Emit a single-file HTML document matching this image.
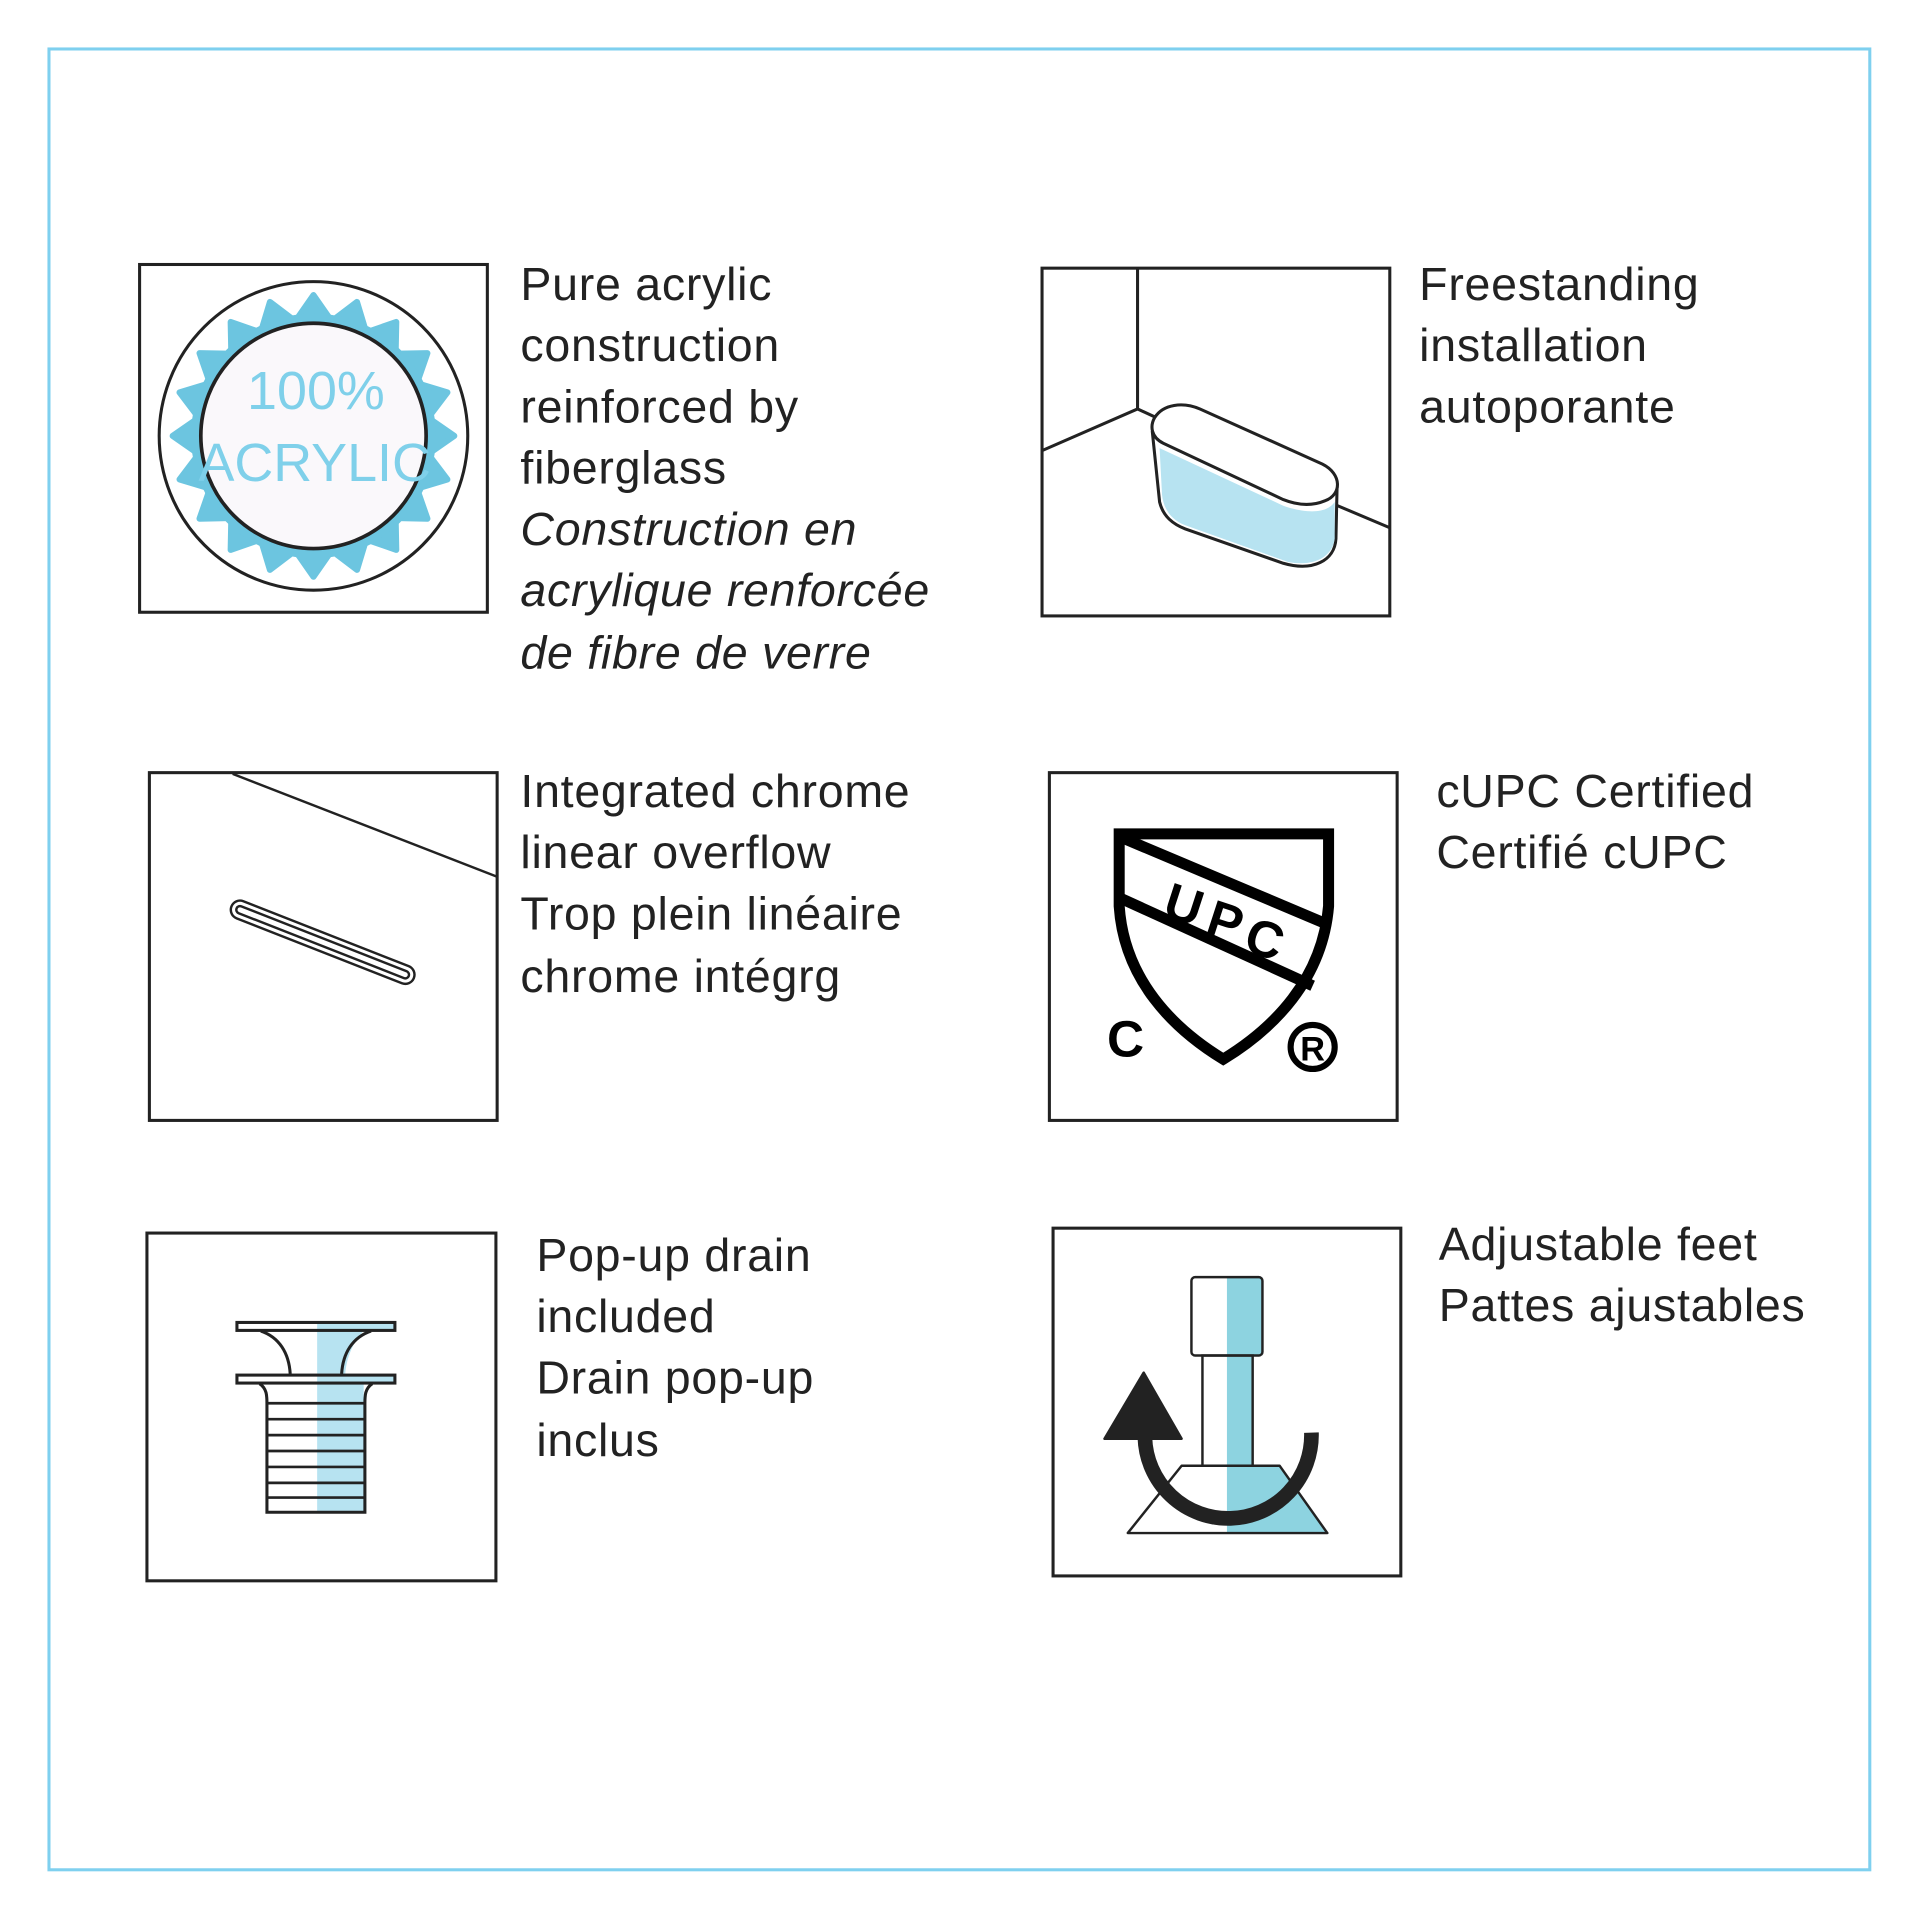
<!DOCTYPE html>
<html><head><meta charset="utf-8"><style>
html,body{margin:0;padding:0;background:#fff}
svg{display:block}
text{font-family:"Liberation Sans",sans-serif}
.t{font-size:38px;fill:#222;letter-spacing:0.6px}
.i{font-style:italic}
</style></head><body>
<svg width="1920" height="1920" viewBox="0 0 1568 1568" xmlns="http://www.w3.org/2000/svg">
<defs>
<polygon id="tooth" points="240,264 256,241 272,264" fill="#6cc5e0" stroke="#6cc5e0" stroke-width="5" stroke-linejoin="round"/>
</defs>
<rect x="0" y="0" width="1568" height="1568" fill="#fff"/>
<rect x="40" y="40" width="1487" height="1487" fill="none" stroke="#7fd0ef" stroke-width="2.5"/>

<!-- Acrylic icon -->
<rect x="114" y="216" width="284" height="284" fill="none" stroke="#222" stroke-width="2.5"/>
<circle cx="256" cy="356" r="126" fill="none" stroke="#222" stroke-width="2.5"/>
<g>
<use href="#tooth" transform="rotate(0 256 356)"/>
<use href="#tooth" transform="rotate(18 256 356)"/>
<use href="#tooth" transform="rotate(36 256 356)"/>
<use href="#tooth" transform="rotate(54 256 356)"/>
<use href="#tooth" transform="rotate(72 256 356)"/>
<use href="#tooth" transform="rotate(90 256 356)"/>
<use href="#tooth" transform="rotate(108 256 356)"/>
<use href="#tooth" transform="rotate(126 256 356)"/>
<use href="#tooth" transform="rotate(144 256 356)"/>
<use href="#tooth" transform="rotate(162 256 356)"/>
<use href="#tooth" transform="rotate(180 256 356)"/>
<use href="#tooth" transform="rotate(198 256 356)"/>
<use href="#tooth" transform="rotate(216 256 356)"/>
<use href="#tooth" transform="rotate(234 256 356)"/>
<use href="#tooth" transform="rotate(252 256 356)"/>
<use href="#tooth" transform="rotate(270 256 356)"/>
<use href="#tooth" transform="rotate(288 256 356)"/>
<use href="#tooth" transform="rotate(306 256 356)"/>
<use href="#tooth" transform="rotate(324 256 356)"/>
<use href="#tooth" transform="rotate(342 256 356)"/>
</g>
<circle cx="256" cy="356" r="100" fill="#6cc5e0"/>
<circle cx="256" cy="356" r="92" fill="#faf8fb" stroke="#222" stroke-width="3"/>
<text x="258" y="334" text-anchor="middle" font-size="44" fill="#7fd0ea">100%</text>
<text x="257" y="393" text-anchor="middle" font-size="44" fill="#7fd0ea">ACRYLIC</text>

<g class="t">
<text x="425" y="245">Pure acrylic</text>
<text x="425" y="295">construction</text>
<text x="425" y="345">reinforced by</text>
<text x="425" y="395">fiberglass</text>
<text x="425" y="445" class="i">Construction en</text>
<text x="425" y="495" class="i">acrylique renforcée</text>
<text x="425" y="546" class="i">de fibre de verre</text>

<text x="1159" y="245">Freestanding</text>
<text x="1159" y="295">installation</text>
<text x="1159" y="345">autoporante</text>

<text x="425" y="659">Integrated chrome</text>
<text x="425" y="709">linear overflow</text>
<text x="425" y="759">Trop plein linéaire</text>
<text x="425" y="810">chrome intégrg</text>

<text x="1173" y="659">cUPC Certified</text>
<text x="1173" y="709">Certifié cUPC</text>

<text x="438" y="1038">Pop-up drain</text>
<text x="438" y="1088">included</text>
<text x="438" y="1138">Drain pop-up</text>
<text x="438" y="1189">inclus</text>

<text x="1175" y="1029">Adjustable feet</text>
<text x="1175" y="1079">Pattes ajustables</text>
</g>

<!-- Tub icon -->
<rect x="851" y="219" width="284" height="284" fill="none" stroke="#222" stroke-width="2.5"/>
<line x1="929" y1="219" x2="929" y2="334" stroke="#222" stroke-width="2.5"/>
<path d="M851,368 L929,334 L955,346" fill="none" stroke="#222" stroke-width="2.5"/>
<line x1="1090" y1="412" x2="1135" y2="431" stroke="#222" stroke-width="2.5"/>
<path d="M941,352 L947,410 C950,422 958,428 968,432 L1048,460 C1072,467 1090,458 1091,440 L1092,395" fill="#fff" stroke="#222" stroke-width="2.5"/>
<path d="M947,366 L1048,413 C1068,420 1084,419 1090,410 L1090,440 C1088,455 1073,463 1052,459 L968,429 C955,424 950,414 949,404 Z" fill="#b7e3f1"/>
<path d="M943,341 C950,330 966,328 980,334 L1080,379 C1096,387 1096,404 1082,409 C1070,414 1058,412 1048,408 L950,362 C940,357 939,348 943,341 Z" fill="#fff" stroke="#222" stroke-width="2.5"/>

<!-- Overflow icon -->
<rect x="122" y="631" width="284" height="284" fill="none" stroke="#222" stroke-width="2.5"/>
<line x1="190" y1="632" x2="406" y2="716" stroke="#222" stroke-width="2"/>
<line x1="196" y1="743" x2="331" y2="796" stroke="#222" stroke-width="17" stroke-linecap="round"/>
<line x1="196" y1="743" x2="331" y2="796" stroke="#fff" stroke-width="13" stroke-linecap="round"/>
<line x1="196" y1="743" x2="331" y2="796" stroke="#222" stroke-width="8" stroke-linecap="round"/>
<line x1="196" y1="743" x2="331" y2="796" stroke="#fff" stroke-width="4" stroke-linecap="round"/>

<!-- UPC icon -->
<rect x="857" y="631" width="284" height="284" fill="none" stroke="#222" stroke-width="2.5"/>
<path d="M914,681 L1085,681 L1085,740 C1080,800 1040,840 999,865 C958,840 918,800 914,740 Z" fill="none" stroke="#000" stroke-width="9" stroke-linejoin="miter"/>
<line x1="916" y1="684" x2="1082" y2="754" stroke="#000" stroke-width="9"/>
<line x1="916" y1="734" x2="1072" y2="805" stroke="#000" stroke-width="9"/>
<text transform="translate(948,748) rotate(18)" font-size="42" font-weight="bold" fill="#000">U</text>
<text transform="translate(983,762) rotate(18)" font-size="42" font-weight="bold" fill="#000">P</text>
<text transform="translate(1014,776) rotate(18)" font-size="42" font-weight="bold" fill="#000">C</text>
<text x="904" y="863" font-size="42" font-weight="bold" fill="#000">C</text>
<circle cx="1072" cy="855" r="18" fill="none" stroke="#000" stroke-width="5"/>
<text x="1072" y="866" text-anchor="middle" font-size="28" font-weight="bold" fill="#000">R</text>

<!-- Drain icon -->
<rect x="120" y="1007" width="285" height="284" fill="none" stroke="#222" stroke-width="2.5"/>
<path d="M259,1087 L297,1087 C289,1095 283,1108 282,1122 L259,1122 Z" fill="#b7e3f1"/>
<rect x="259" y="1129" width="38" height="106" fill="#b7e3f1"/>
<rect x="259" y="1080" width="63" height="6" fill="#b7e3f1"/>
<rect x="259" y="1123" width="63" height="6" fill="#b7e3f1"/>
<path d="M213,1087 C228,1092 236,1105 237,1122 M303,1087 C288,1092 280,1105 279,1122" fill="none" stroke="#222" stroke-width="2.5"/>
<path d="M212,1130 C218,1134 218,1140 218,1146 L218,1235 L298,1235 L298,1146 C298,1140 298,1134 304,1130" fill="none" stroke="#222" stroke-width="2.5"/>
<rect x="193.5" y="1080" width="129" height="6.5" fill="none" stroke="#222" stroke-width="2.5"/>
<rect x="193.5" y="1123" width="129" height="6.5" fill="none" stroke="#222" stroke-width="2.5"/>
<g stroke="#222" stroke-width="2.2">
<line x1="218" y1="1146" x2="298" y2="1146"/>
<line x1="218" y1="1159" x2="298" y2="1159"/>
<line x1="218" y1="1172" x2="298" y2="1172"/>
<line x1="218" y1="1185" x2="298" y2="1185"/>
<line x1="218" y1="1198" x2="298" y2="1198"/>
<line x1="218" y1="1211" x2="298" y2="1211"/>
<line x1="218" y1="1223" x2="298" y2="1223"/>
</g>

<!-- Feet icon -->
<rect x="860" y="1003" width="284" height="284" fill="none" stroke="#222" stroke-width="2.5"/>
<polygon points="1002,1197 1045,1197 1084,1252 1002,1252" fill="#8dd3e0"/>
<rect x="1002" y="1107" width="21" height="90" fill="#8dd3e0"/>
<rect x="1002" y="1043" width="29" height="64" fill="#8dd3e0"/>
<polygon points="965,1197 1045,1197 1084,1252 921,1252" fill="none" stroke="#222" stroke-width="2" stroke-linejoin="round"/>
<rect x="982" y="1107" width="41" height="90" fill="none" stroke="#222" stroke-width="2"/>
<rect x="973" y="1043" width="58" height="64" rx="3" fill="none" stroke="#222" stroke-width="2"/>
<path d="M1071,1170 A68,68 0 0 1 935,1174" fill="none" stroke="#222" stroke-width="12"/>
<polygon points="934,1121 902,1175 965,1175" fill="#222" stroke="#222" stroke-width="2" stroke-linejoin="round"/>
</svg>
</body></html>
